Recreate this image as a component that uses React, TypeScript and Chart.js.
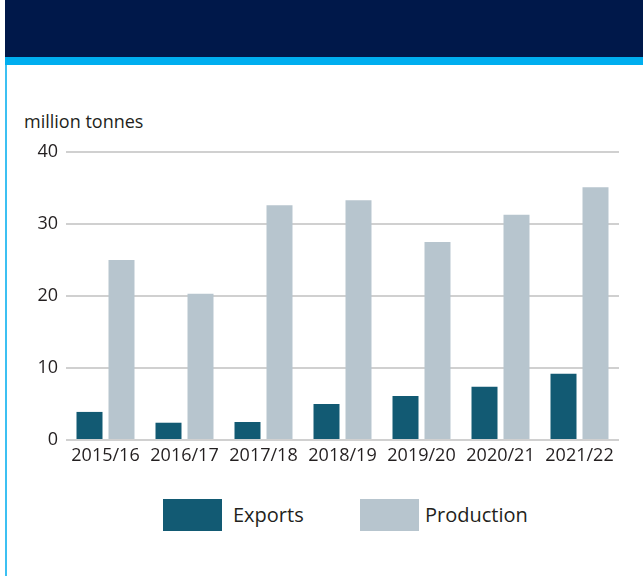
import React, { useEffect, useRef } from "react";
import { Chart, registerables } from "chart.js";

Chart.register(...registerables);

const categories = ["2015/16", "2016/17", "2017/18", "2018/19", "2019/20", "2020/21", "2021/22"];
const exportsValues = [3.9, 2.4, 2.5, 5.0, 6.1, 7.4, 9.2];
const productionValues = [25.0, 20.3, 32.6, 33.3, 27.5, 31.3, 35.1];
const yTicks = [0, 10, 20, 30, 40];
const seriesNames = ["Exports", "Production"];
const unitLabel = "million tonnes";

const EXPORT_COLOR = "#125A73";
const PROD_COLOR = "#B7C5CE";
const FONT = "'Open Sans', 'Noto Sans', sans-serif";

export default function App() {
  const ref = useRef<HTMLCanvasElement | null>(null);

  useEffect(() => {
    if (!ref.current) return;
    const chart = new Chart(ref.current, {
      type: "bar",
      data: {
        labels: categories,
        datasets: [
          {
            label: seriesNames[0],
            data: exportsValues,
            backgroundColor: EXPORT_COLOR,
            categoryPercentage: 0.81,
            barPercentage: 0.8125,
          },
          {
            label: seriesNames[1],
            data: productionValues,
            backgroundColor: PROD_COLOR,
            categoryPercentage: 0.81,
            barPercentage: 0.8125,
          },
        ],
      },
      options: {
        animation: false,
        responsive: false,
        maintainAspectRatio: false,
        devicePixelRatio: 1,
        layout: { padding: { left: 0, right: 24, top: 87, bottom: 0 } },
        plugins: {
          legend: { display: false },
          tooltip: { enabled: false },
          title: { display: false },
        },
        scales: {
          x: {
            grid: { display: false, drawTicks: false },
            border: { display: false },
            ticks: {
              color: "#231f20",
              font: { family: FONT, size: 18 },
              padding: 5,
              maxRotation: 0,
              autoSkip: false,
            },
            afterFit: (scale: any) => {
              scale.height = 45;
            },
          },
          y: {
            min: 0,
            max: 40,
            afterBuildTicks: (scale: any) => {
              scale.ticks = yTicks.map((v) => ({ value: v }));
            },
            grid: { color: "#d0d0d0", lineWidth: 2, drawTicks: false },
            border: { display: false },
            ticks: {
              color: "#231f20",
              font: { family: FONT, size: 18 },
              padding: 8,
            },
            afterFit: (scale: any) => {
              scale.width = 60;
            },
          },
        },
      },
    });
    return () => chart.destroy();
  }, []);

  const legendItem = (name: string, color: string, left: number, gap: number) => (
    <div style={{ position: "absolute", left, top: 499, height: 32, display: "flex", alignItems: "center" }}>
      <div style={{ width: 59, height: 32, background: color }} />
      <span style={{ marginLeft: gap, fontFamily: FONT, fontSize: 20, color: "#231f20", lineHeight: "32px" }}>{name}</span>
    </div>
  );

  return (
    <div style={{ position: "fixed", left: 0, top: 0, width: 643, height: 576, background: "#fff", overflow: "hidden" }}>
      <div style={{ position: "absolute", left: 5, top: 0, width: 638, height: 57, background: "#00184A" }} />
      <div style={{ position: "absolute", left: 5, top: 57, width: 638, height: 8, background: "#00AEEF" }} />
      <div style={{ position: "absolute", left: 5, top: 65, width: 2, height: 511, background: "#3CC0F2" }} />
      <div style={{ position: "absolute", left: 24, top: 108, fontFamily: FONT, fontSize: 18, color: "#231f20", lineHeight: "26px" }}>
        {unitLabel}
      </div>
      <canvas ref={ref} width={637} height={420} style={{ position: "absolute", left: 6, top: 65, width: 637, height: 420 }} />
      {legendItem(seriesNames[0], EXPORT_COLOR, 163, 11)}
      {legendItem(seriesNames[1], PROD_COLOR, 360, 6)}
    </div>
  );
}
